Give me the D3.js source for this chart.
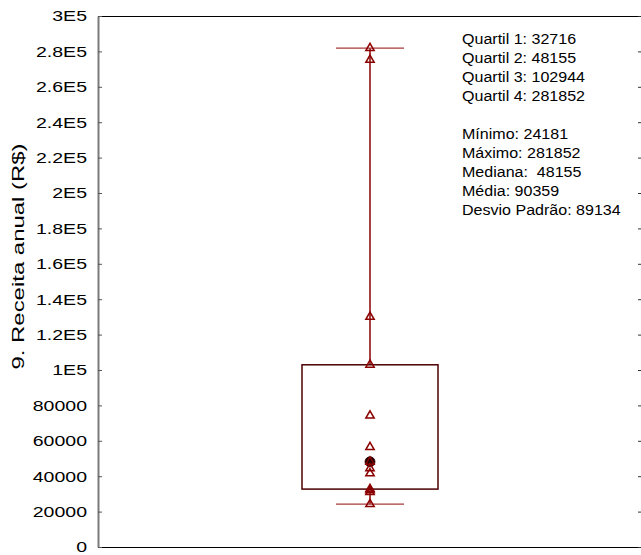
<!DOCTYPE html>
<html>
<head>
<meta charset="utf-8">
<script src="https://cdn.jsdelivr.net/npm/d3@7"></script>
<style>
  html, body { margin: 0; padding: 0; background: #fff; }
  svg { display: block; }
  text { font-family: "Liberation Sans", Arial, sans-serif; fill: #000; }
</style>
</head>
<body>
<svg id="chart" width="641" height="555"></svg>
<script>
// ---- data ----
const categories = ["9. Receita anual (R$)"];
const quartiles = [32716, 48155, 102944, 281852];
const minimum = 24181;
const maximum = 281852;
const median = 48155;
const mean = 90359;
const stdDev = 89134;
const observations = [281852, 275200, 130000, 102944, 74200, 56400, 48155, 44400, 41600, 32716, 32000, 31000, 24181];
const yTickValues = [0, 20000, 40000, 60000, 80000, 100000, 120000, 140000, 160000, 180000, 200000, 220000, 240000, 260000, 280000, 300000];
const yTickLabels = ["0", "20000", "40000", "60000", "80000", "1E5", "1.2E5", "1.4E5", "1.6E5", "1.8E5", "2E5", "2.2E5", "2.4E5", "2.6E5", "2.8E5", "3E5"];
const quartileLines = ["Quartil 1: " + quartiles[0], "Quartil 2: " + quartiles[1], "Quartil 3: " + quartiles[2], "Quartil 4: " + quartiles[3]];
const summaryLines = ["Mínimo: " + minimum, "Máximo: " + maximum, "Mediana:  " + median, "Média: " + mean, "Desvio Padrão: " + stdDev];

// ---- layout ----
const plot = { left: 98, right: 642, top: 16, bottom: 547 };
const svg = d3.select("#chart");

const y = d3.scaleLinear().domain([0, 300000]).range([plot.bottom, plot.top]);
const x = d3.scaleBand().domain(categories).range([plot.left, plot.right]).paddingInner(0).paddingOuter(1.5);

const darkRed = "#8b0000";
const boxColor = "#4d0000";
const capColor = "#a83a3a";

// frame lines
svg.append("line").attr("x1", plot.left).attr("x2", plot.right).attr("y1", plot.top + 0.5).attr("y2", plot.top + 0.5)
  .attr("stroke", "#000").attr("stroke-width", 1);
svg.append("line").attr("x1", plot.left).attr("x2", plot.right).attr("y1", plot.bottom + 0.5).attr("y2", plot.bottom + 0.5)
  .attr("stroke", "#000").attr("stroke-width", 1);

// left axis
const sx = 1.26;
const yAxis = d3.axisLeft(y).tickValues(yTickValues)
  .tickFormat((d, i) => yTickLabels[i]).tickSizeInner(-4).tickSizeOuter(0).tickPadding(11);
const gy = svg.append("g").attr("transform", `translate(${plot.left},0)`).call(yAxis);
gy.select(".domain").attr("stroke", "#7a7a7a").attr("stroke-width", 2);
gy.selectAll(".tick line").attr("stroke", "#555").attr("stroke-width", 1);
gy.selectAll(".tick text")
  .attr("font-size", 15.5)
  .attr("font-family", "Liberation Sans, Arial, sans-serif")
  .attr("fill", "#000")
  .attr("x", -11 / sx)
  .attr("transform", `scale(${sx},1)`);

// right axis ticks
const yAxisR = d3.axisRight(y).tickValues(yTickValues).tickFormat("").tickSizeInner(-4).tickSizeOuter(0);
const gr = svg.append("g").attr("transform", `translate(${plot.right},0)`).call(yAxisR);
gr.select(".domain").attr("stroke", "#000");
gr.selectAll(".tick line").attr("stroke", "#333");

// y label
const lx = 24, ly = 256.5, lsx = 1.45;
svg.append("text")
  .attr("transform", `translate(${lx},${ly}) rotate(-90) scale(${lsx},1)`)
  .attr("text-anchor", "middle")
  .attr("font-size", 16.5)
  .text(categories[0]);

// box plot
const cat = categories[0];
const bx = x(cat), bw = x.bandwidth(), cx = bx + bw / 2;
const capW = bw / 2;

// whiskers
svg.append("line").attr("x1", cx).attr("x2", cx).attr("y1", y(maximum)).attr("y2", y(quartiles[2]))
  .attr("stroke", darkRed).attr("stroke-width", 1.5);
svg.append("line").attr("x1", cx).attr("x2", cx).attr("y1", y(quartiles[0])).attr("y2", y(minimum))
  .attr("stroke", darkRed).attr("stroke-width", 1.5);
// caps
[maximum, minimum].forEach(v => {
  svg.append("line").attr("x1", cx - capW / 2).attr("x2", cx + capW / 2).attr("y1", y(v)).attr("y2", y(v))
    .attr("stroke", capColor).attr("stroke-width", 1.2);
});
// box
svg.append("rect")
  .attr("x", bx).attr("y", y(quartiles[2]))
  .attr("width", bw).attr("height", y(quartiles[0]) - y(quartiles[2]))
  .attr("fill", "none").attr("stroke", boxColor).attr("stroke-width", 1.5);

// median dot
svg.append("circle").attr("cx", cx).attr("cy", y(median)).attr("r", 5)
  .attr("fill", "#1a0000").attr("stroke", "#330000").attr("stroke-width", 0.8);

// observations (open triangles)
const tri = d3.symbol().type(d3.symbolTriangle).size(30);
svg.selectAll("path.obs").data(observations).join("path")
  .attr("class", "obs")
  .attr("d", tri)
  .attr("transform", d => `translate(${cx},${y(d)})`)
  .attr("fill", "none")
  .attr("stroke", darkRed)
  .attr("stroke-width", 1.5);

// stats text
const tx = 462, tsx = 1.07;
const stats = svg.append("g").attr("transform", `translate(${tx},0) scale(${tsx},1)`);
const lineH = 19;
const y0 = 44;
quartileLines.forEach((t, i) => {
  stats.append("text").attr("x", 0).attr("y", y0 + i * lineH).attr("font-size", 15)
    .style("white-space", "pre").text(t);
});
const y1 = y0 + 5 * lineH;
summaryLines.forEach((t, i) => {
  stats.append("text").attr("x", 0).attr("y", y1 + i * lineH).attr("font-size", 15)
    .style("white-space", "pre").text(t);
});
</script>
</body>
</html>
